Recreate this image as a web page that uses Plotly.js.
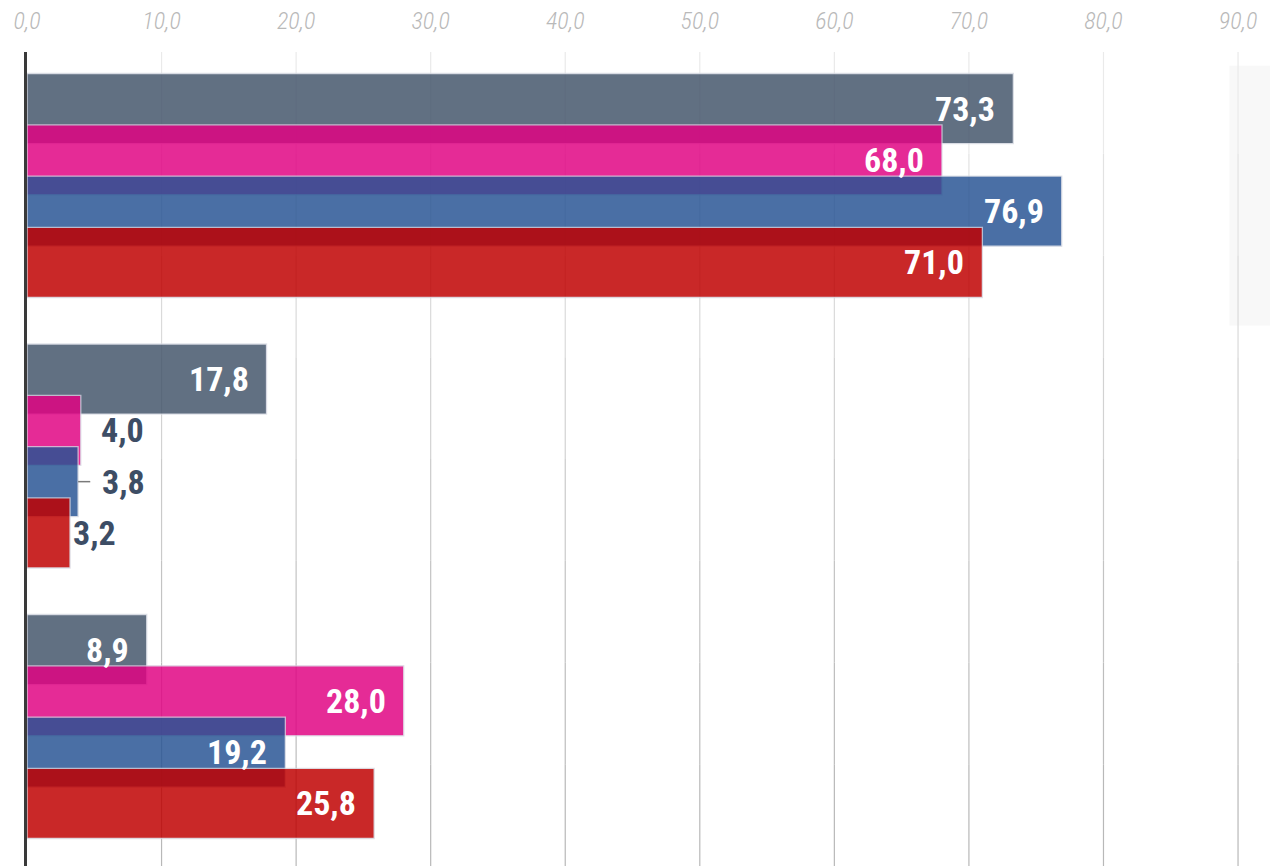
<!DOCTYPE html>
<html>
<head>
<meta charset="utf-8">
<script src="https://cdn.plot.ly/plotly-3.0.1.min.js"></script>
<style>
  html, body { margin: 0; padding: 0; background: #ffffff; }
  #chart { width: 1270px; height: 866px; }
</style>
</head>
<body>
<div id="chart"></div>
<script>
// ---- data ----
const groups = ['Gruppe 1', 'Gruppe 2', 'Gruppe 3'];
const seriesNames = ['Serie 1', 'Serie 2', 'Serie 3', 'Serie 4'];
const serie1 = [73.3, 17.8, 8.9];
const serie2 = [68.0, 4.0, 28.0];
const serie3 = [76.9, 3.8, 19.2];
const serie4 = [71.0, 3.2, 25.8];
const tickValues = [0, 10, 20, 30, 40, 50, 60, 70, 80, 90];

// ---- styles ----
const seriesValues = [serie1, serie2, serie3, serie4];
const colors = ['#44556B', '#E10383', '#285494', '#BF0000'];
const barOpacity = 0.84;
const seriesStep = 0.1897;   // vertical offset between series bars (group units)
const barWidth = 0.259;      // bar thickness (group units), bars overlap
const labelFont = 'Liberation Sans Narrow, "Roboto Condensed", "Arial Narrow", "DejaVu Sans Condensed", sans-serif';
// label placement for bars too short for an inside label: [series, group, xshift]
const outsideLabels = [[1, 1, 18], [2, 1, 22], [3, 1, 1]];
// gridline fades from light (top) to darker (bottom)
const gridShades = ['#EAEAEA', '#E2E2E2', '#DADADA', '#D2D2D2', '#CACACA', '#C3C3C3', '#BDBDBD', '#B8B8B8'];

const fmt = v => v.toFixed(1).replace('.', ',');
const yPos = (g, s) => g + (s - 1.5) * seriesStep;

const traces = seriesValues.map((vals, s) => ({
  type: 'bar',
  orientation: 'h',
  name: seriesNames[s],
  x: vals,
  y: groups.map((_, g) => yPos(g, s)),
  width: barWidth,
  marker: {
    color: colors[s],
    opacity: barOpacity,
    line: { color: 'rgba(215,218,228,0.9)', width: 1.3 }
  },
  hoverinfo: 'x+name'
}));

const annotations = [];
const shapes = [];

// faint background panel at the right edge
shapes.push({
  type: 'rect', xref: 'paper', yref: 'paper', layer: 'below',
  x0: 0.9674, x1: 1.01, y0: 0.664, y1: 0.983,
  fillcolor: '#F8F8F8', line: { width: 0 }
});
// gradient gridlines
tickValues.filter(t => t > 0).forEach(t => {
  gridShades.forEach((c, i) => {
    shapes.push({
      type: 'line', xref: 'x', yref: 'paper', layer: 'below',
      x0: t, x1: t,
      y0: 1 - i / gridShades.length, y1: 1 - (i + 1) / gridShades.length,
      line: { color: c, width: 1.2 }
    });
  });
});

seriesValues.forEach((vals, s) => {
  vals.forEach((v, g) => {
    const out = outsideLabels.find(o => o[0] === s && o[1] === g);
    annotations.push({
      x: v, y: yPos(g, s), xref: 'x', yref: 'y',
      text: fmt(v), showarrow: false,
      xanchor: out ? 'left' : 'right',
      yanchor: 'middle',
      xshift: out ? out[2] : -16,
      font: { family: labelFont, size: 34, weight: 'bold', color: out ? '#3D4D65' : '#ffffff' }
    });
  });
});
// short leader line for the 3,8 label
shapes.push({
  type: 'line', xref: 'x', yref: 'y',
  x0: serie3[1], x1: serie3[1] + 0.9,
  y0: yPos(1, 2), y1: yPos(1, 2),
  line: { color: '#7a7a7a', width: 1.5 }
});

const layout = {
  width: 1270, height: 866,
  margin: { l: 27, r: 0, t: 52, b: 0, pad: 0 },
  paper_bgcolor: '#ffffff',
  plot_bgcolor: '#ffffff',
  showlegend: false,
  barmode: 'overlay',
  separators: ',.',
  xaxis: {
    side: 'top',
    range: [0, 92.375],
    tickvals: tickValues,
    tickformat: '.1f',
    ticks: '',
    showgrid: false,
    zeroline: false,
    showline: false,
    tickfont: { family: labelFont, size: 24, weight: 300, style: 'italic', color: '#B9B9B9' },
    ticklabelstandoff: 17,
    fixedrange: true
  },
  yaxis: {
    range: [2.5157, -0.4935],
    showticklabels: false,
    ticks: '',
    showgrid: false,
    zeroline: false,
    showline: true,
    linecolor: '#3A3A3A',
    linewidth: 3,
    fixedrange: true
  },
  annotations: annotations,
  shapes: shapes
};

Plotly.newPlot('chart', traces, layout, { displayModeBar: false, staticPlot: true });
</script>
</body>
</html>
